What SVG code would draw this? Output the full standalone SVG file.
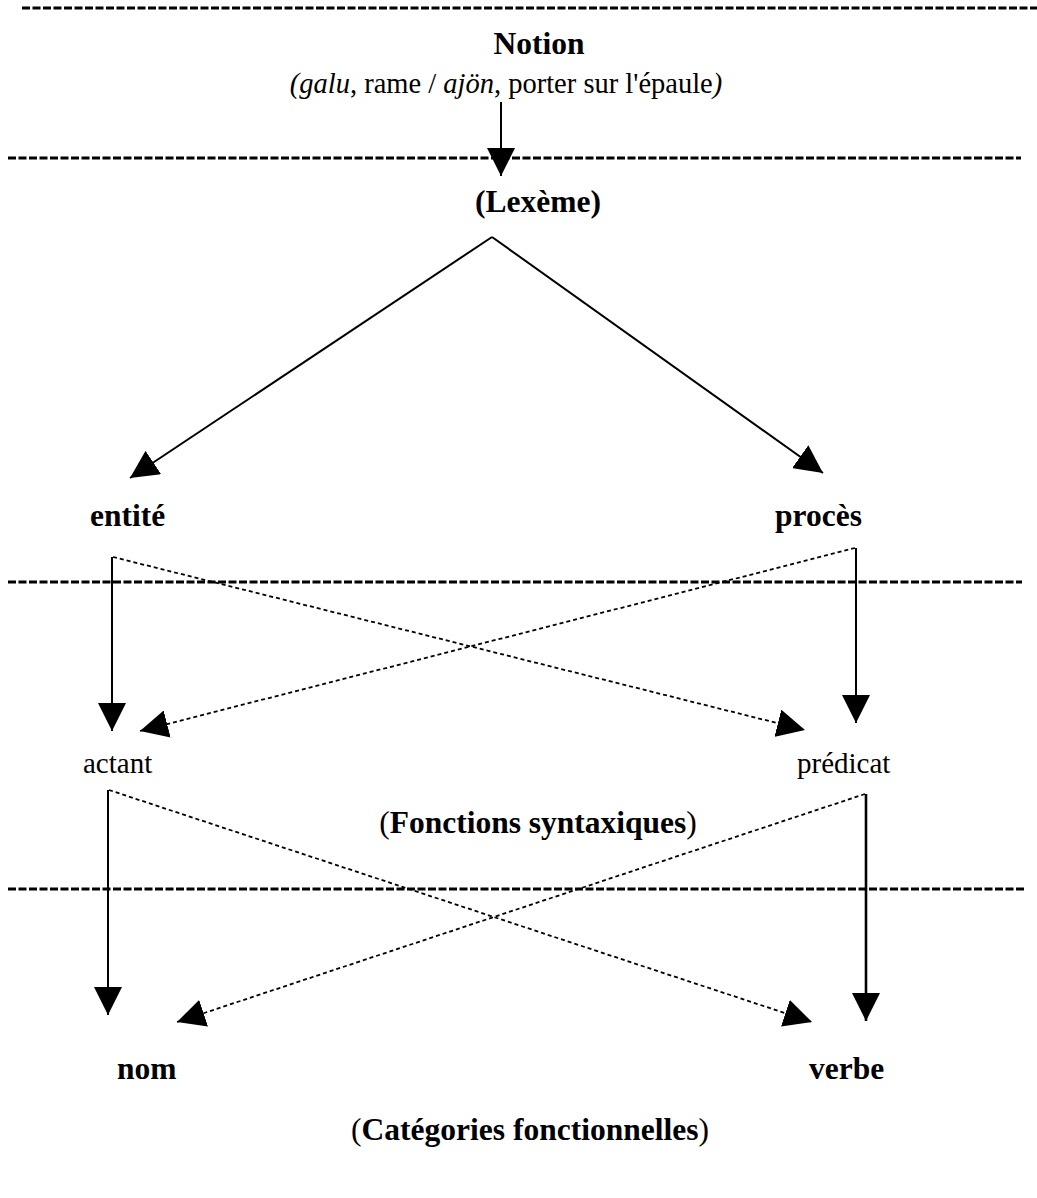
<svg xmlns="http://www.w3.org/2000/svg" width="1037" height="1198" viewBox="0 0 1037 1198">
<style>
  text { font-family: "Liberation Serif", "Times New Roman", serif; fill: #000; }
  .b { font-weight: bold; font-size: 31.5px; }
  .r { font-size: 29px; }
  .it { font-size: 28.5px; }
  .i { font-style: italic; }
  .n { font-weight: normal; }
  .sep { stroke: #000; stroke-width: 3; stroke-dasharray: 8 2.5; fill: none; }
  .solid { stroke: #000; stroke-width: 2; fill: none; }
  .dot { stroke: #000; stroke-width: 1.8; stroke-dasharray: 4 3; fill: none; }
</style>
<defs>
  <marker id="ah" viewBox="0 0 28 28" refX="28" refY="14" markerWidth="28" markerHeight="28" markerUnits="userSpaceOnUse" orient="auto">
    <path d="M0,0 L28,14 L0,28 Z" fill="#000"/>
  </marker>
</defs>
<rect width="1037" height="1198" fill="#fff"/>

<g id="separators">
  <line class="sep" x1="22" y1="8" x2="1037" y2="8"/>
  <line class="sep" x1="8" y1="158" x2="1021" y2="158"/>
  <line class="sep" x1="8" y1="582" x2="1022" y2="582"/>
  <line class="sep" x1="8" y1="889" x2="1025" y2="889"/>
</g>

<g id="connectors">
  <line class="solid" x1="501" y1="102" x2="501" y2="176" marker-end="url(#ah)"/>
  <line class="solid" x1="492" y1="237" x2="130" y2="478" marker-end="url(#ah)"/>
  <line class="solid" x1="492" y1="237" x2="823" y2="473" marker-end="url(#ah)"/>
  <line class="solid" x1="112" y1="557" x2="112" y2="731" marker-end="url(#ah)"/>
  <line class="dot" x1="113" y1="557" x2="805" y2="730" marker-end="url(#ah)"/>
  <line class="solid" x1="856" y1="548" x2="856" y2="723" marker-end="url(#ah)"/>
  <line class="dot" x1="855" y1="548" x2="140" y2="731" marker-end="url(#ah)"/>
  <line class="solid" x1="108" y1="790" x2="108" y2="1015" marker-end="url(#ah)"/>
  <line class="dot" x1="109" y1="790" x2="812" y2="1022" marker-end="url(#ah)"/>
  <line class="solid" style="stroke-width:2.6" x1="866" y1="794" x2="866" y2="1021" marker-end="url(#ah)"/>
  <line class="dot" x1="865" y1="794" x2="177" y2="1022" marker-end="url(#ah)"/>
</g>

<g id="notion">
  <text class="b" x="539" y="54" text-anchor="middle">Notion</text>
  <text class="it" x="506" y="93" text-anchor="middle"><tspan class="i">(galu</tspan>, rame / <tspan class="i">ajön</tspan>, porter sur l'épaule<tspan class="i">)</tspan></text>
</g>
<g id="lexeme">
  <text class="b" x="538" y="212" text-anchor="middle">(Lexème)</text>
</g>
<g id="entite">
  <text class="b" x="90" y="526">entité</text>
</g>
<g id="proces">
  <text class="b" x="775" y="526">procès</text>
</g>
<g id="actant">
  <text class="r" x="83" y="773">actant</text>
</g>
<g id="predicat">
  <text class="r" x="797" y="773">prédicat</text>
</g>
<g id="fonctions">
  <text class="b" x="538" y="833" text-anchor="middle"><tspan class="n">(</tspan>Fonctions syntaxiques<tspan class="n">)</tspan></text>
</g>
<g id="nom">
  <text class="b" x="117" y="1079">nom</text>
</g>
<g id="verbe">
  <text class="b" x="809" y="1079">verbe</text>
</g>
<g id="categories">
  <text class="b" x="530" y="1140" text-anchor="middle"><tspan class="n">(</tspan>Catégories fonctionnelles<tspan class="n">)</tspan></text>
</g>
</svg>
